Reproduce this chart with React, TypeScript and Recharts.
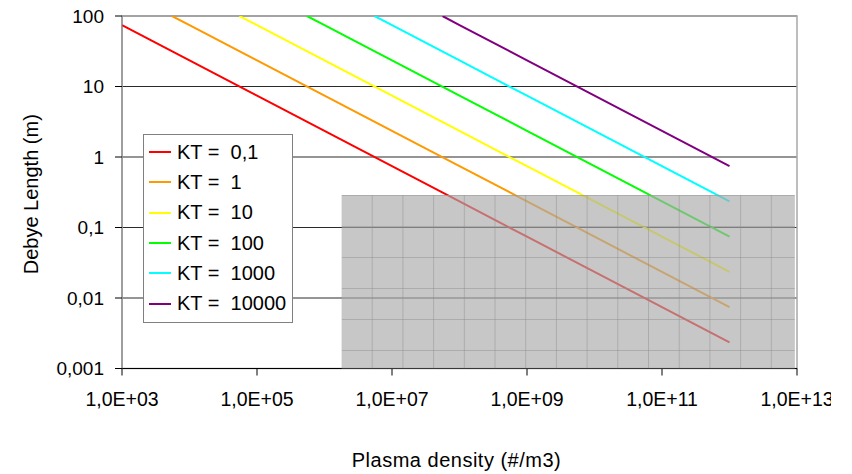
import React from 'react';
import { LineChart, Line, XAxis, YAxis, CartesianGrid, ReferenceArea } from 'recharts';

const densities = [1e3, 1e4, 1e5, 1e6, 1e7, 1e8, 1e9, 1e10, 1e11, 1e12];
const ktLabels = ['0,1', '1', '10', '100', '1000', '10000'];
const colors = ['#ff0000', '#ff9900', '#ffff00', '#00ff00', '#00ffff', '#800080'];

// density where each curve comes in under the 100 m top edge
const entryDensity = [null, 5.5e3, 5.5e4, 5.5e5, 5.5e6, 5.6e7];

const kt01 = [74, 23.5, 7.4, 2.35, 0.74, 0.235, 0.074, 0.0235, 0.0074, 0.00235];
const kt1 = [null, 74, 23.5, 7.4, 2.35, 0.74, 0.235, 0.074, 0.0235, 0.0074];
const kt10 = [null, null, 74, 23.5, 7.4, 2.35, 0.74, 0.235, 0.074, 0.0235];
const kt100 = [null, null, null, 74, 23.5, 7.4, 2.35, 0.74, 0.235, 0.074];
const kt1000 = [null, null, null, null, 74, 23.5, 7.4, 2.35, 0.74, 0.235];
const kt10000 = [null, null, null, null, null, 74, 23.5, 7.4, 2.35, 0.74];

const xTicks = [1e3, 1e5, 1e7, 1e9, 1e11, 1e13];
const yTicks = [0.001, 0.01, 0.1, 1, 10, 100];

// shaded region (density, debye length)
const shadeX = [1.8e6, 9.3e12];
const shadeY = [0.001, 0.29];

const seriesValues = [kt01, kt1, kt10, kt100, kt1000, kt10000];

const series = seriesValues.map((vals, i) => {
  const pts: { n: number; v: number }[] = [];
  const entry = entryDensity[i];
  if (entry != null) pts.push({ n: entry, v: 100 });
  vals.forEach((v, j) => {
    if (v != null) pts.push({ n: densities[j], v });
  });
  return { name: `KT =  ${ktLabels[i]}`, color: colors[i], data: pts };
});

const font = '"Liberation Sans", Arial, sans-serif';

const fmtX = (v: number) => {
  const e = Math.round(Math.log10(v));
  return `1,0E+${String(e).padStart(2, '0')}`;
};
const fmtY = (v: number) => String(v).replace('.', ',');

function LegendBox() {
  return (
    <div
      style={{
        position: 'absolute',
        left: 143,
        top: 134,
        background: '#fff',
        border: '1.5px solid #808080',
        width: 148,
        padding: '2px 0 3px 0',
        fontFamily: font,
        fontSize: 20,
        color: '#000',
      }}
    >
      {series.map((s) => (
        <div key={s.name} style={{ display: 'flex', alignItems: 'center', height: 30.3 }}>
          <div style={{ width: 22, height: 2, background: s.color, marginLeft: 5, marginRight: 6 }} />
          <span style={{ whiteSpace: 'pre' }}>{s.name}</span>
        </div>
      ))}
    </div>
  );
}

export default function App() {
  return (
    <div style={{ position: 'absolute', left: 0, top: 0, width: 852, height: 474, background: '#fff' }}>
      <div style={{ position: 'relative', width: 831, height: 474, overflow: 'hidden' }}>
        <LineChart width={852} height={474} margin={{ top: 16, right: 55, bottom: 0, left: 0 }}>
          <defs>
            <pattern id="shade" patternUnits="userSpaceOnUse" x={341} y={195} width={30.7} height={31}>
              <rect width={30.7} height={31} fill="rgba(170,170,170,0.66)" />
              <rect width={30.7} height={1} fill="rgba(140,140,140,0.45)" />
              <rect width={1} height={31} fill="rgba(140,140,140,0.45)" />
            </pattern>
          </defs>
          <CartesianGrid vertical={false} stroke="#2a2a2a" />
          <XAxis
            dataKey="n"
            type="number"
            scale="log"
            domain={[1e3, 1e13]}
            ticks={xTicks}
            tickFormatter={fmtX}
            allowDataOverflow
            height={105.5}
            stroke="#000"
            tickSize={7}
            tickMargin={17}
            tick={{ fill: '#000', fontSize: 19.5, fontFamily: font }}
            label={{
              content: (p: any) => {
                const vb = p.viewBox || { x: 122, y: 368.5, width: 675 };
                return (
                  <text
                    x={vb.x + vb.width / 2 - 3}
                    y={vb.y + 98}
                    textAnchor="middle"
                    fontSize={20}
                    letterSpacing={0.5}
                    fontFamily={font}
                    fill="#000"
                  >
                    Plasma density (#/m3)
                  </text>
                );
              },
            }}
          />
          <YAxis
            dataKey="v"
            type="number"
            scale="log"
            domain={[0.001, 100]}
            ticks={yTicks}
            tickFormatter={fmtY}
            allowDataOverflow
            width={122}
            stroke="#808080"
            tickLine={{ stroke: '#000' }}
            tickSize={7}
            tickMargin={11}
            tick={{ fill: '#000', fontSize: 19, fontFamily: font }}
            label={{
              content: (p: any) => {
                const vb = p.viewBox || { x: 0, y: 16, height: 352.5 };
                const cy = vb.y + vb.height / 2 + 2;
                return (
                  <text
                    x={38}
                    y={cy}
                    transform={`rotate(-90, 38, ${cy})`}
                    textAnchor="middle"
                    fontSize={20}
                    fontFamily={font}
                    fill="#000"
                  >
                    Debye Length (m)
                  </text>
                );
              },
            }}
          />
          {series.map((s) => (
            <Line
              key={s.name}
              data={s.data}
              dataKey="v"
              name={s.name}
              type="linear"
              stroke={s.color}
              strokeWidth={2}
              dot={false}
              isAnimationActive={false}
            />
          ))}
          <ReferenceArea
            x1={shadeX[0]}
            x2={shadeX[1]}
            y1={shadeY[0]}
            y2={shadeY[1]}
            fill="url(#shade)"
            fillOpacity={1}
            stroke="none"
            ifOverflow="visible"
            {...({ zIndex: 1000 } as any)}
          />
          <ReferenceArea
            x1={1e3}
            x2={1e13}
            y1={0.001}
            y2={100}
            fill="none"
            stroke="#a8a8a8"
            strokeWidth={1.5}
          />
        </LineChart>
        <LegendBox />
      </div>
    </div>
  );
}
